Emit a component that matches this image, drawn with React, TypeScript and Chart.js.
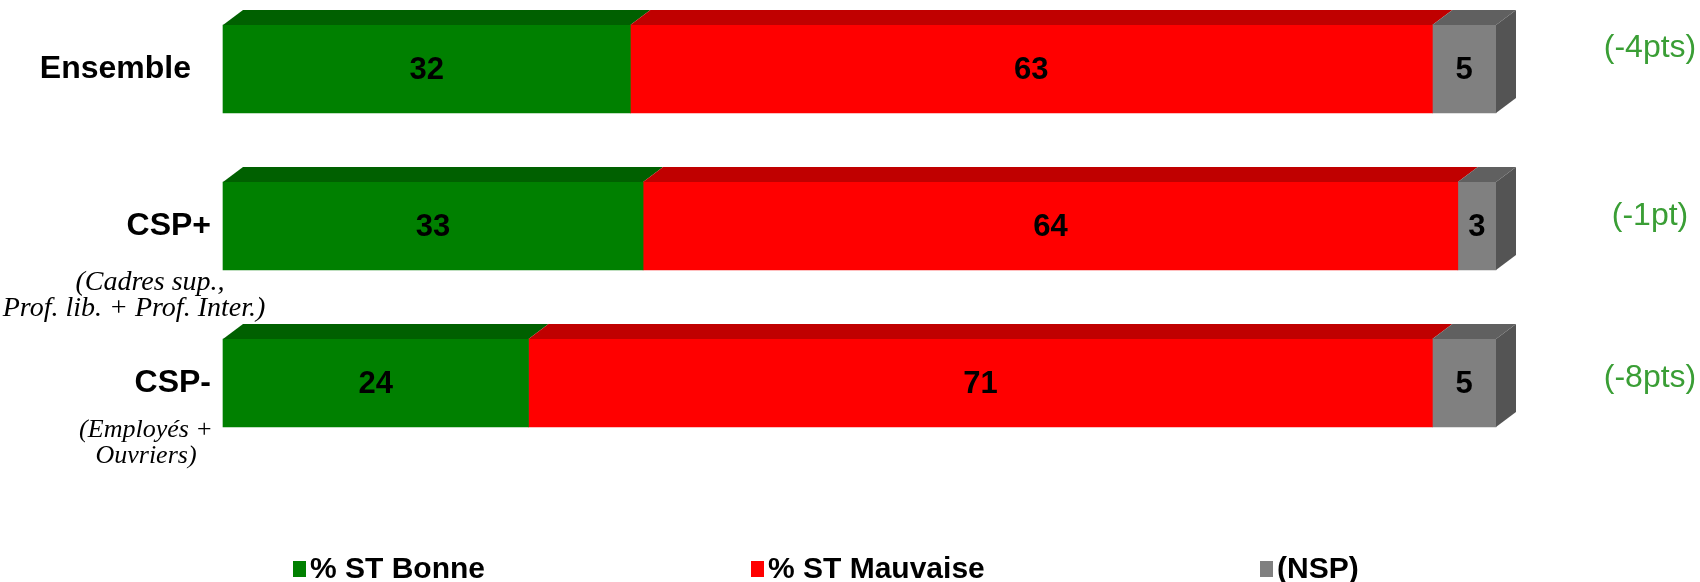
import React, { useEffect, useRef } from "react";
import { Chart, registerables } from "chart.js";

Chart.register(...registerables);

// ---- data ----
const categories = ["Ensemble", "CSP+", "CSP-"];
const subLabels: string[][] = [[], ["(Cadres sup.,", "Prof. lib. + Prof. Inter.)"], ["(Employés +", "Ouvriers)"]];
const seriesNames = ["% ST Bonne", "% ST Mauvaise", "(NSP)"];
const bonne = [32, 33, 24];
const mauvaise = [63, 64, 71];
const nsp = [5, 3, 5];
const changes = ["(-4pts)", "(-1pt)", "(-8pts)"];

// ---- style ----
const frontColors = ["#008000", "#FF0000", "#808080"];
const topColors = ["#006000", "#C00000", "#606060"];
const sideColor = "#545454";
const DEPTH_X = 20;
const DEPTH_Y = 15;
const SANS = "'Liberation Sans', Arial, Helvetica, sans-serif";
const SERIF = "'Liberation Serif', 'Times New Roman', serif";

const threeD = {
  id: "threeD",
  afterDatasetsDraw(chart: any) {
    const ctx = chart.ctx;
    const n = chart.data.datasets.length;
    ctx.save();
    for (let i = 0; i < n; i++) {
      const meta = chart.getDatasetMeta(i);
      meta.data.forEach((el: any) => {
        const p = el.getProps(["x", "y", "base", "height"], true);
        const l = Math.min(p.x, p.base);
        const r = Math.max(p.x, p.base);
        const t = p.y - p.height / 2;
        const b = p.y + p.height / 2;
        ctx.fillStyle = topColors[i];
        ctx.beginPath();
        ctx.moveTo(l, t);
        ctx.lineTo(l + DEPTH_X, t - DEPTH_Y);
        ctx.lineTo(r + DEPTH_X, t - DEPTH_Y);
        ctx.lineTo(r, t);
        ctx.closePath();
        ctx.fill();
        if (i === n - 1) {
          ctx.fillStyle = sideColor;
          ctx.beginPath();
          ctx.moveTo(r, t);
          ctx.lineTo(r + DEPTH_X, t - DEPTH_Y);
          ctx.lineTo(r + DEPTH_X, b - DEPTH_Y);
          ctx.lineTo(r, b);
          ctx.closePath();
          ctx.fill();
        }
      });
    }
    // value labels
    ctx.fillStyle = "#000";
    ctx.font = `bold 31px ${SANS}`;
    ctx.textAlign = "center";
    ctx.textBaseline = "middle";
    for (let i = 0; i < n; i++) {
      const meta = chart.getDatasetMeta(i);
      const ds = chart.data.datasets[i];
      meta.data.forEach((el: any, j: number) => {
        const p = el.getProps(["x", "y", "base"], true);
        ctx.fillText(String(ds.data[j]), (p.x + p.base) / 2, p.y + 1);
      });
    }
    ctx.restore();
  },
  afterDraw(chart: any) {
    const ctx = chart.ctx;
    const ys = chart.scales.y;
    ctx.save();
    const labelRight = [191, 211, 211];
    const subCenters = [[], [150, 134], [146, 146]];
    const subFont = [26, 28, 26];
    const subOffset = [0, 57, 47];
    const changeOffset = [-21, -10, -5];
    categories.forEach((c, i) => {
      const y = ys.getPixelForValue(i);
      ctx.fillStyle = "#000";
      ctx.font = `bold 32px ${SANS}`;
      ctx.textAlign = "right";
      ctx.textBaseline = "middle";
      ctx.fillText(c, labelRight[i], y);
      ctx.font = `italic ${subFont[i]}px ${SERIF}`;
      ctx.textAlign = "center";
      subLabels[i].forEach((s, k) => {
        ctx.fillText(s, subCenters[i][k], y + subOffset[i] + k * 26);
      });
      ctx.fillStyle = "#3A9E35";
      ctx.font = `32px ${SANS}`;
      ctx.fillText(changes[i], 1650, y + changeOffset[i]);
    });
    // legend
    const legendX = [293, 751, 1260];
    const ly = 569;
    ctx.textAlign = "left";
    ctx.textBaseline = "middle";
    seriesNames.forEach((s, i) => {
      ctx.fillStyle = frontColors[i];
      ctx.fillRect(legendX[i], ly - 8, 13, 16);
      ctx.fillStyle = "#000";
      ctx.font = `bold 30px ${SANS}`;
      ctx.fillText(s, legendX[i] + 17, ly + 1);
    });
    ctx.restore();
  },
};

export default function App() {
  const ref = useRef<HTMLCanvasElement>(null);
  useEffect(() => {
    if (!ref.current) return;
    const values = [bonne, mauvaise, nsp];
    const chart = new Chart(ref.current, {
      type: "bar",
      data: {
        labels: categories,
        datasets: seriesNames.map((name, i) => ({
          label: name,
          data: values[i],
          backgroundColor: frontColors[i],
          borderWidth: 0,
          barThickness: 88,
          clip: false as any,
        })),
      },
      options: {
        indexAxis: "y",
        responsive: false,
        animation: false,
        layout: { padding: { left: 223, right: 204, top: 69, bottom: 199 } },
        plugins: { legend: { display: false }, tooltip: { enabled: false }, title: { display: false } },
        scales: {
          x: { stacked: true, min: 0, max: 100, display: false },
          y: { stacked: true, display: false, offset: false, grid: { display: false } },
        },
      },
      plugins: [threeD],
    });
    return () => chart.destroy();
  }, []);
  return (
    <div style={{ width: 1684, height: 566 }}>
      <canvas
        ref={ref}
        width={1700}
        height={582}
        style={{ display: "block", position: "fixed", left: 0, top: 0 }}
      />
    </div>
  );
}
